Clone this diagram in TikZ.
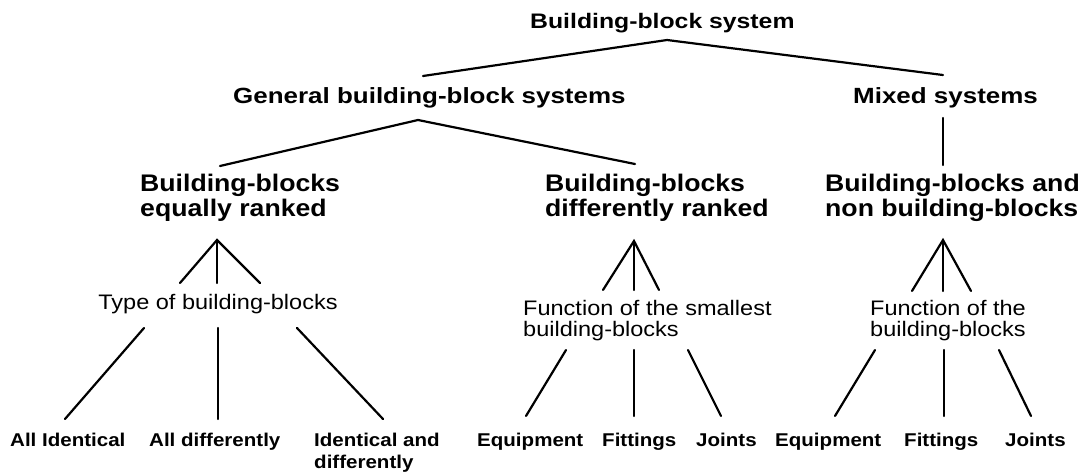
\documentclass[tikz,border=0pt]{standalone}
\usepackage{fontspec}
\setmainfont{Liberation Sans}
\newfontfamily\fA{Liberation Sans}[FakeStretch=1.18]
\newfontfamily\fB{Liberation Sans}[FakeStretch=1.11]
\newfontfamily\fC{Liberation Sans}[FakeStretch=1.12]
\begin{document}
\begin{tikzpicture}[x=1pt,y=-1pt,
  titlebox/.style={inner sep=0pt, font=\fA\bfseries\fontsize{21}{25}\selectfont},
  headbox/.style={inner sep=0pt, font=\fA\bfseries\fontsize{22}{26}\selectfont},
  subbox/.style={inner sep=0pt, align=left, font=\fB\bfseries\fontsize{24}{25}\selectfont},
  critbox/.style={inner sep=0pt, align=left, font=\fC\fontsize{21}{21}\selectfont},
  leafbox/.style={inner sep=0pt, align=left, font=\fB\bfseries\fontsize{18.5}{22}\selectfont},
  link/.style={line width=2.2pt, line cap=round}]
\path[use as bounding box] (0,0) rectangle (1079,474);

% texts
\node[titlebox, anchor=base west] (top) at (530,28) {Building-block system};
\node[headbox, anchor=base west] (gen) at (233,103) {General building-block systems};
\node[headbox, anchor=base west] (mix) at (853,103) {Mixed systems};
\node[subbox, anchor=north west] (eq) at (140,174) {Building-blocks\\equally ranked};
\node[subbox, anchor=north west] (dif) at (545,174) {Building-blocks\\differently ranked};
\node[subbox, anchor=north west] (non) at (825,174) {Building-blocks and\\non building-blocks};
\node[critbox, anchor=base] (type) at (218,309) {Type of building-blocks};
\node[critbox, anchor=north west] (fsm) at (523,300) {Function of the smallest\\building-blocks};
\node[critbox, anchor=north west] (fbb) at (870,300) {Function of the\\building-blocks};
\node[leafbox, anchor=base west] (l1) at (10,446) {All Identical};
\node[leafbox, anchor=base west] (l2) at (149,446) {All differently};
\node[leafbox, anchor=north west] (l3) at (314,432.8) {Identical and\\differently};
\node[leafbox, anchor=base west] (l4) at (477,446) {Equipment};
\node[leafbox, anchor=base west] (l5) at (602,446) {Fittings};
\node[leafbox, anchor=base west] (l6) at (696,446) {Joints};
\node[leafbox, anchor=base west] (l7) at (775,446) {Equipment};
\node[leafbox, anchor=base west] (l8) at (904,446) {Fittings};
\node[leafbox, anchor=base west] (l9) at (1005,446) {Joints};

% connector end points
\coordinate (tA) at (667,40);
\coordinate (tL) at (423,76);
\coordinate (tR) at (943,75);
\coordinate (gA) at (418,120);
\coordinate (gL) at (220,166);
\coordinate (gR) at (635,164);
\coordinate (mT) at (943,118);
\coordinate (mB) at (943,165);
\coordinate (eA) at (217,240);
\coordinate (eL) at (180,283);
\coordinate (eM) at (217,283);
\coordinate (eR) at (260,283);
\coordinate (dA) at (634,241);
\coordinate (dL) at (603,290);
\coordinate (dM) at (634,290);
\coordinate (dR) at (659,290);
\coordinate (nA) at (943,240);
\coordinate (nL) at (912,291);
\coordinate (nM) at (943,291);
\coordinate (nR) at (971,291);
\coordinate (y1t) at (144,328); \coordinate (y1b) at (65,419);
\coordinate (y2t) at (218,328); \coordinate (y2b) at (218,419);
\coordinate (y3t) at (297,328); \coordinate (y3b) at (383,419);
\coordinate (s1t) at (566,350); \coordinate (s1b) at (526,416);
\coordinate (s2t) at (634,350); \coordinate (s2b) at (634,416);
\coordinate (s3t) at (688,350); \coordinate (s3b) at (721,416);
\coordinate (b1t) at (875,350); \coordinate (b1b) at (835,416);
\coordinate (b2t) at (944,350); \coordinate (b2b) at (944,416);
\coordinate (b3t) at (999,350); \coordinate (b3b) at (1031,416);

% connectors
\draw[link] (tL) -- (tA) -- (tR);
\draw[link] (gL) -- (gA) -- (gR);
\draw[link] (mT) -- (mB);
\draw[link] (eL) -- (eA) -- (eR);
\draw[link] (eA) -- (eM);
\draw[link] (dL) -- (dA) -- (dR);
\draw[link] (dA) -- (dM);
\draw[link] (nL) -- (nA) -- (nR);
\draw[link] (nA) -- (nM);
\draw[link] (y1t) -- (y1b);
\draw[link] (y2t) -- (y2b);
\draw[link] (y3t) -- (y3b);
\draw[link] (s1t) -- (s1b);
\draw[link] (s2t) -- (s2b);
\draw[link] (s3t) -- (s3b);
\draw[link] (b1t) -- (b1b);
\draw[link] (b2t) -- (b2b);
\draw[link] (b3t) -- (b3b);
\end{tikzpicture}
\end{document}
